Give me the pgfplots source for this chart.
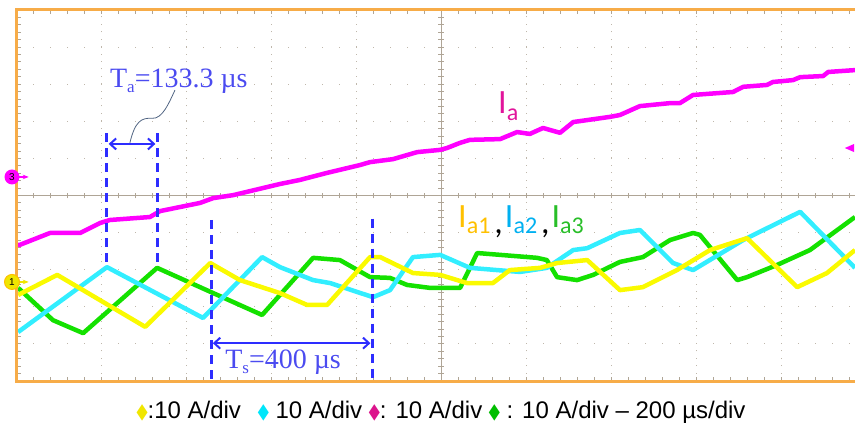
\documentclass[border=0pt]{standalone}
\usepackage{pgfplots}
\usepackage{pgfplotstable}
\usepackage{graphicx}
\pgfplotsset{compat=1.18}
\usetikzlibrary{calc,arrows.meta}
\usepackage{fontspec}
\setmainfont{Liberation Sans}
\newfontfamily\serif{Liberation Serif}
\newfontfamily\calfont{Carlito}
\newfontfamily\dv{DejaVu Sans}
\definecolor{trM}{RGB}{255,0,255}
\definecolor{trY}{RGB}{250,250,0}
\definecolor{trC}{RGB}{50,238,255}
\definecolor{trG}{RGB}{20,225,0}
\definecolor{framec}{RGB}{247,172,72}
\definecolor{gridc}{RGB}{175,165,150}
\definecolor{ann}{RGB}{45,45,255}
\definecolor{annT}{RGB}{75,75,240}
\definecolor{lead}{RGB}{80,100,130}
\definecolor{labM}{RGB}{225,20,155}
\definecolor{labO}{RGB}{255,192,0}
\definecolor{labC}{RGB}{0,176,240}
\definecolor{labG}{RGB}{40,190,40}
\definecolor{legY}{RGB}{240,230,0}
\definecolor{legC}{RGB}{0,230,250}
\definecolor{legM}{RGB}{220,20,140}
\definecolor{legG}{RGB}{0,190,0}

% time in microseconds (200 us/div), amplitude in divisions (10 A/div)
\pgfplotstableread{
t Y
0 -1.33
9 -1.33
80 -1.01
151 -1.01
198 -0.74
221 -0.66
315 -0.58
339 -0.42
433 -0.20
464 -0.07
511 0.01
621 0.31
668 0.42
732 0.61
809 0.82
833 0.90
887 0.98
944 1.17
998 1.23
1014 1.28
1045 1.42
1068 1.50
1139 1.52
1179 1.71
1209 1.66
1240 1.82
1280 1.69
1311 1.98
1398 2.12
1421 2.17
1468 2.41
1539 2.49
1562 2.49
1593 2.71
1687 2.79
1711 2.93
1767 2.98
1781 3.06
1828 3.11
1845 3.19
1899 3.22
1911 3.33
1974 3.38
}\magdata

\pgfplotstableread{
t Y
5 -2.68
97 -2.14
304 -3.54
457 -1.82
527 -2.28
621 -2.63
685 -2.95
732 -2.95
833 -1.66
857 -1.66
934 -2.09
998 -2.14
1061 -2.36
1122 -2.36
1162 -2.01
1233 -1.95
1273 -1.82
1344 -1.74
1421 -2.55
1475 -2.47
1555 -2.01
1633 -1.47
1720 -1.15
1838 -2.47
1908 -2.09
1974 -1.47
}\yeldata

\pgfplotstableread{
t Y
5 -3.68
214 -1.93
440 -3.30
579 -1.66
621 -1.93
699 -2.28
739 -2.36
840 -2.74
880 -2.55
934 -1.66
998 -1.60
1068 -1.95
1132 -2.01
1186 -2.06
1249 -1.95
1311 -1.47
1344 -1.42
1421 -1.01
1468 -0.93
1546 -1.82
1593 -2.01
1711 -1.20
1845 -0.44
1974 -1.95
}\cyadata

\pgfplotstableread{
t Y
5 -2.49
87 -3.36
158 -3.71
332 -1.95
464 -2.63
579 -3.22
699 -1.68
762 -1.74
833 -2.20
880 -2.22
920 -2.41
974 -2.49
1045 -2.49
1085 -1.55
1226 -1.68
1249 -1.74
1273 -2.20
1320 -2.28
1358 -2.14
1421 -1.79
1475 -1.66
1539 -1.20
1593 -1.01
1609 -1.06
1697 -2.28
1720 -2.20
1791 -1.87
1868 -1.47
1974 -0.58
}\gredata

\begin{document}
\begin{tikzpicture}
\begin{axis}[
  name=ax, x=0.425pt, y=37.1pt, scale only axis,
  xmin=0, xmax=1974, ymin=-5, ymax=5,
  axis line style={draw=none},
  xtick={200,400,...,1800}, ytick={-4,-3,...,4},
  xticklabels={}, yticklabels={},
  major tick length=0pt, minor tick length=0pt,
  grid=major,
  major x grid style={gridc!80, line width=0.9pt, dash pattern=on 1pt off 6.42pt},
  major y grid style={gridc!80, line width=0.9pt, dash pattern=on 1pt off 16pt},
  clip mode=individual,
]
\coordinate (SW) at (rel axis cs:0,0);
\coordinate (NE) at (rel axis cs:1,1);
% centre cross lines
\draw[gridc, line width=1pt] (axis cs:0,0) -- (axis cs:1974,0);
\draw[gridc, line width=1pt] (axis cs:1000,-5) -- (axis cs:1000,5);
\pgfplotsinvokeforeach{40,80,...,1960}{
  \draw[gridc, line width=0.9pt] (axis cs:#1,-5) -- (axis cs:#1,-4.88);
  \draw[gridc, line width=0.9pt] (axis cs:#1,5) -- (axis cs:#1,4.88);
  \draw[gridc, line width=0.9pt] (axis cs:#1,-0.08) -- (axis cs:#1,0.08);
}
\pgfplotsinvokeforeach{-4.8,-4.6,...,4.81}{
  \draw[gridc, line width=0.9pt] (axis cs:0,#1) -- (axis cs:11,#1);
  \draw[gridc, line width=0.9pt] (axis cs:993,#1) -- (axis cs:1007,#1);
}
% traces
\addplot[trG, line width=4.5pt, line join=round] table[x=t,y=Y]{\gredata};
\addplot[trC, line width=4.5pt, line join=round] table[x=t,y=Y]{\cyadata};
\addplot[trY, line width=4.5pt, line join=round] table[x=t,y=Y]{\yeldata};
\addplot[trM, line width=4.5pt, line join=round] table[x=t,y=Y]{\magdata};
% frame
\draw[framec, line width=3pt] (axis cs:1974,5) -- (axis cs:0,5) -- (axis cs:0,-5) -- (axis cs:1974,-5);
% annotations
\draw[ann, line width=3pt, dash pattern=on 9pt off 6pt] (axis cs:214,1.68) -- (axis cs:214,-1.93);
\draw[ann, line width=3pt, dash pattern=on 9pt off 6pt] (axis cs:332,1.68) -- (axis cs:332,-1.93);
\draw[ann, line width=3pt, dash pattern=on 9pt off 6pt] (axis cs:459,-0.66) -- (axis cs:459,-5);
\draw[ann, line width=3pt, dash pattern=on 9pt off 6pt] (axis cs:838,-0.62) -- (axis cs:838,-5);
\draw[ann, line width=2pt, {Straight Barb[length=6pt,width=11pt]}-{Straight Barb[length=6pt,width=11pt]}] (axis cs:218,1.39) -- (axis cs:328,1.39);
\draw[ann, line width=2pt, {Straight Barb[length=6pt,width=11pt]}-{Straight Barb[length=6pt,width=11pt]}] (axis cs:463,-3.98) -- (axis cs:834,-3.98);
\draw[lead, line width=0.8pt] (axis cs:268,1.42) .. controls (axis cs:280,2.0) and (axis cs:295,2.1) .. (axis cs:320,2.08) .. controls (axis cs:345,2.06) and (axis cs:360,2.5) .. (axis cs:374,2.84);
\node[anchor=base west, inner sep=0pt, annT] at (axis cs:221,2.92) {\serif\fontsize{28}{28}\selectfont T\raisebox{-5pt}{\fontsize{17}{17}\selectfont a}=133.3 µs};
\node[anchor=base west, inner sep=0pt, annT] at (axis cs:492,-4.65) {\serif\fontsize{28}{28}\selectfont T\raisebox{-5pt}{\fontsize{17}{17}\selectfont s}=400 µs};
% labels
\node[anchor=base west, inner sep=0pt, labM] at (axis cs:1134,2.22) {\calfont\fontsize{34}{34}\selectfont I\raisebox{-7pt}{\fontsize{24}{24}\selectfont a}};
\node[anchor=base west, inner sep=0pt] at (axis cs:1040,-0.85) {\calfont\fontsize{34}{34}\selectfont
  \textcolor{labO}{I\raisebox{-6pt}{\fontsize{24}{24}\selectfont a1}}\hspace{4pt}\raisebox{-6pt}{,}\hspace{2pt}%
  \textcolor{labC}{I\raisebox{-6pt}{\fontsize{24}{24}\selectfont a2}}\hspace{4pt}\raisebox{-6pt}{,}\hspace{2pt}%
  \textcolor{labG}{I\raisebox{-6pt}{\fontsize{24}{24}\selectfont a3}}};
% channel markers
\draw[trM, line width=1.5pt, -{Stealth[length=6pt]}] (axis cs:-9,0.5) -- (axis cs:30,0.5);
\fill[trM] (axis cs:-9.4,0.5) circle[radius=7.5pt];
\node[inner sep=0pt, font=\fontsize{10}{10}\selectfont] at (axis cs:-9.4,0.5) {3};
\draw[legY, line width=1.5pt, -{Stealth[length=6pt]}] (axis cs:-9,-2.33) -- (axis cs:30,-2.33);
\filldraw[fill=legY, draw=labO, line width=1pt] (axis cs:-9.4,-2.33) circle[radius=7.5pt];
\node[inner sep=0pt, font=\fontsize{10}{10}\selectfont] at (axis cs:-9.4,-2.33) {1};
\fill[trM] (axis cs:1950,1.28) -- (axis cs:1972,1.39) -- (axis cs:1972,1.17) -- cycle;
% bottom caption
\node[anchor=base, inner sep=0pt] at (axis cs:1000,-6.02) {\fontsize{24}{24}\selectfont
  \textcolor{legY}{\scalebox{0.6}[0.9]{\dv ◆}}:10 A/div\hspace{0.7em}%
  \textcolor{legC}{\scalebox{0.6}[0.9]{\dv ◆}} 10 A/div \textcolor{legM}{\scalebox{0.6}[0.9]{\dv ◆}}: 10 A/div \textcolor{legG}{\scalebox{0.6}[0.9]{\dv ◆}} : 10 A/div – 200 µs/div};
\end{axis}
\pgfresetboundingbox
\useasboundingbox ($(SW)+(-16pt,-47pt)$) rectangle ($(NE)+(0pt,10pt)$);
\end{tikzpicture}
\end{document}
